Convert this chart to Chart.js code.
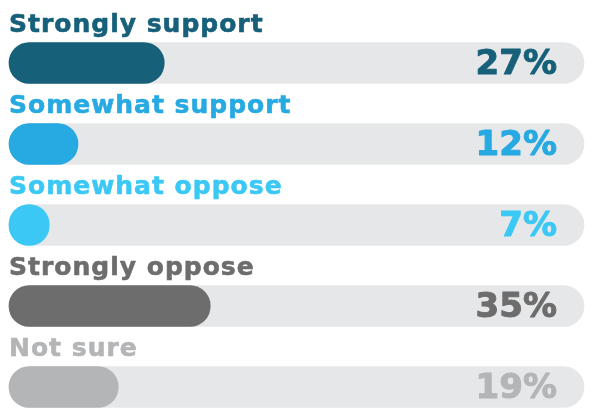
<!DOCTYPE html>
<html>
<head>
<meta charset="utf-8">
<script src="https://cdn.jsdelivr.net/npm/chart.js@4/dist/chart.umd.min.js"></script>
<style>
html, body { margin: 0; padding: 0; background: #fff; }
#wrap { width: 592px; height: 417px; position: relative; }
</style>
</head>
<body>
<div id="wrap"><canvas id="pollChart" width="592" height="417"></canvas></div>
<script>
// --- data ---
const categories = ['Strongly support', 'Somewhat support', 'Somewhat oppose', 'Strongly oppose', 'Not sure'];
const percentages = [27, 12, 7, 35, 19];
const trackValues = [100, 100, 100, 100, 100];
const barColors = ['#17607a', '#27a9e1', '#3bc8f5', '#6d6d6d', '#b4b5b7'];
const trackColor = '#e6e7e8';

// labels above each bar + percent at the right end of the track
const rowLabels = {
    id: 'rowLabels',
    afterDatasetsDraw(chart) {
        const ctx = chart.ctx;
        const area = chart.chartArea;
        const meta = chart.getDatasetMeta(0);
        ctx.save();
        meta.data.forEach((bar, i) => {
            const top = bar.y - bar.height / 2;
            ctx.fillStyle = barColors[i];
            ctx.strokeStyle = barColors[i];
            ctx.lineJoin = 'round';

            ctx.font = 'bold 25px "DejaVu Sans"';
            ctx.letterSpacing = '1px';
            ctx.textAlign = 'left';
            ctx.textBaseline = 'alphabetic';
            ctx.lineWidth = 0.6;
            ctx.fillText(categories[i], area.left, top - 11);
            ctx.strokeText(categories[i], area.left, top - 11);

            ctx.font = 'bold 34px "DejaVu Sans"';
            ctx.letterSpacing = '0px';
            ctx.textAlign = 'right';
            ctx.textBaseline = 'middle';
            ctx.lineWidth = 1;
            ctx.fillText(percentages[i] + '%', area.right - 27, bar.y + 2);
            ctx.strokeText(percentages[i] + '%', area.right - 27, bar.y + 2);
        });
        ctx.restore();
    }
};

new Chart(document.getElementById('pollChart'), {
    type: 'bar',
    data: {
        labels: categories,
        datasets: [
            {
                data: percentages,
                backgroundColor: barColors,
                borderRadius: 21,
                borderSkipped: false,
                grouped: false,
                barThickness: 41,
                clip: false
            },
            {
                data: trackValues,
                backgroundColor: trackColor,
                borderRadius: 21,
                borderSkipped: false,
                grouped: false,
                barThickness: 41,
                clip: false
            }
        ]
    },
    options: {
        indexAxis: 'y',
        responsive: false,
        animation: false,
        devicePixelRatio: 1,
        layout: { padding: { left: 9, right: 8, top: 63, bottom: 30 } },
        scales: {
            x: { min: 0, max: 100, display: false },
            y: { display: false, offset: false }
        },
        plugins: {
            legend: { display: false },
            tooltip: { enabled: false }
        }
    },
    plugins: [rowLabels]
});
</script>
</body>
</html>
